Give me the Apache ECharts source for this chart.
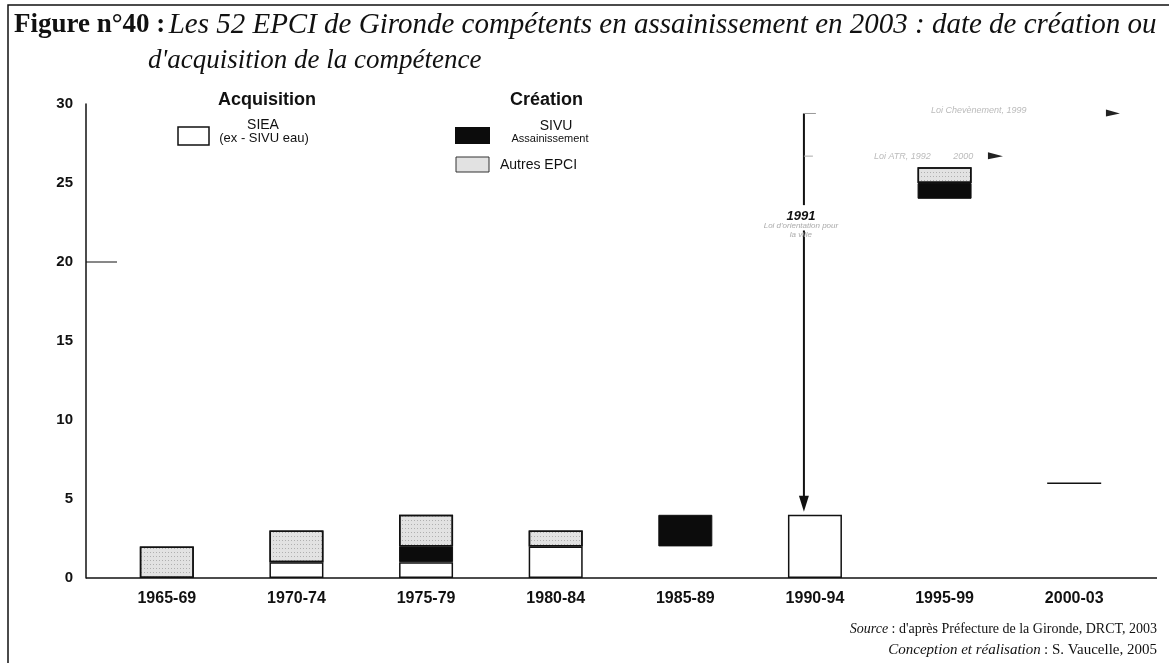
<!DOCTYPE html>
<html>
<head>
<meta charset="utf-8">
<script src="https://cdn.jsdelivr.net/npm/echarts@6/dist/echarts.min.js"></script>
<style>
  html, body { margin: 0; padding: 0; background: #fff; }
  #chart { width: 1169px; height: 663px; }
</style>
</head>
<body>
<div id="chart"></div>
<script>
// Five-year periods
const categories = ['1965-69', '1970-74', '1975-79', '1980-84', '1985-89', '1990-94', '1995-99', '2000-03'];
// Number of EPCI per period
const sieaValues   = [0, 1, 1, 2, 2, 4, 24, 6];   // Acquisition : SIEA (ex - SIVU eau)
const sivuValues   = [0, 0, 1, 0, 2, 0, 1, 0];    // Création : SIVU Assainissement
const autresValues = [2, 2, 2, 1, 0, 0, 1, 0];    // Création : Autres EPCI
const yMin = 0, yMax = 30, yStep = 5;

// Periods whose SIEA outline is barely printed
const faintOutline = ['1985-89', '1995-99', '2000-03'];

const INK = '#111';
const SANS = '"Liberation Sans", Arial, sans-serif';
const SERIF = '"Liberation Serif", "Times New Roman", serif';

const chart = echarts.init(document.getElementById('chart'), null, { renderer: 'canvas' });

function toData(values, styler) {
  return values.map((v, i) => {
    if (!v) return '-';
    const st = styler ? styler(categories[i]) : null;
    return st ? { value: v, itemStyle: st } : v;
  });
}

const stipple = {
  symbol: 'rect',
  symbolSize: 1,
  dashArrayX: [1, 2],
  dashArrayY: [1, 3],
  color: 'rgba(80,80,80,0.35)'
};

chart.setOption({
  animation: false,
  backgroundColor: '#fff',
  grid: { left: 102, top: 104, width: 1037, height: 474 },
  xAxis: {
    type: 'category',
    data: categories,
    axisLine: { show: false },
    axisTick: { show: false },
    axisLabel: { margin: 13, color: INK, fontFamily: SANS, fontWeight: 'bold', fontSize: 16 }
  },
  yAxis: {
    type: 'value',
    min: yMin, max: yMax, interval: yStep,
    offset: 16,
    axisLine: { show: true, lineStyle: { color: INK, width: 1.5 } },
    axisTick: { show: false },
    splitLine: { show: false },
    axisLabel: { margin: 13, color: INK, fontFamily: SANS, fontWeight: 'bold', fontSize: 15, padding: [0, 0, 8, 0] }
  },
  series: [
    {
      name: 'SIEA', type: 'bar', stack: 'epci', barWidth: 54,
      itemStyle: { color: '#fff', borderColor: INK, borderWidth: 1.5 },
      data: toData(sieaValues, c => faintOutline.includes(c) ? { borderWidth: 0 } : null)
    },
    {
      name: 'SIVU Assainissement', type: 'bar', stack: 'epci', barWidth: 54,
      itemStyle: { color: '#0c0c0c', borderColor: INK, borderWidth: 1 },
      data: toData(sivuValues)
    },
    {
      name: 'Autres EPCI', type: 'bar', stack: 'epci', barWidth: 54,
      itemStyle: { color: '#e2e2e2', borderColor: INK, borderWidth: 1.5, decal: stipple },
      data: toData(autresValues)
    }
  ]
});

// Annotations, legend, title and frame placed from the axes' own scale
function px(cat, v) { return chart.convertToPixel({ xAxisIndex: 0, yAxisIndex: 0 }, [cat, v]); }
const band = px(categories[1], 0)[0] - px(categories[0], 0)[0];
const axisX = 102 - 16;
const y0 = px(categories[0], 0)[1];
const xEnd = 102 + 1037 + 18;

const g = [];
// frame
g.push({ type: 'rect', shape: { x: 8, y: 5, width: 1200, height: 700 }, style: { fill: null, stroke: INK, lineWidth: 1.5 }, silent: true });
// baseline
g.push({ type: 'line', shape: { x1: axisX, y1: y0, x2: xEnd, y2: y0 }, style: { stroke: INK, lineWidth: 1.5 } });
// stray reference dash at 20
const y20 = px(categories[0], 20)[1];
g.push({ type: 'line', shape: { x1: axisX, y1: y20, x2: axisX + 31, y2: y20 }, style: { stroke: INK, lineWidth: 1 } });

// top edge of the last SIEA block
const lastCat = categories[categories.length - 1];
const lastTop = px(lastCat, sieaValues[sieaValues.length - 1]);
g.push({ type: 'line', shape: { x1: lastTop[0] - 27, y1: lastTop[1], x2: lastTop[0] + 27, y2: lastTop[1] }, style: { stroke: INK, lineWidth: 1.5 } });

// 1991 arrow
const arrowCat = '1990-94';
const ax = px(arrowCat, 0)[0] - band * 0.085;
const aTop = px(arrowCat, 29.4)[1];
const aTip = px(arrowCat, sieaValues[5] + 0.2)[1];
const gapTop = px(arrowCat, 23.6)[1];
const gapBot = px(arrowCat, 22.0)[1];
g.push({ type: 'line', shape: { x1: ax, y1: aTop, x2: ax, y2: gapTop }, style: { stroke: INK, lineWidth: 2 } });
g.push({ type: 'line', shape: { x1: ax, y1: gapBot, x2: ax, y2: aTip - 12 }, style: { stroke: INK, lineWidth: 2 } });
g.push({ type: 'polygon', shape: { points: [[ax - 5, aTip - 16], [ax + 5, aTip - 16], [ax, aTip]] }, style: { fill: INK } });
g.push({ type: 'line', shape: { x1: ax, y1: aTop, x2: ax + 12, y2: aTop }, style: { stroke: '#999', lineWidth: 1 } });
const aMid = px(arrowCat, 26.7)[1];
g.push({ type: 'line', shape: { x1: ax, y1: aMid, x2: ax + 9, y2: aMid }, style: { stroke: '#aaa', lineWidth: 1 } });
g.push({ type: 'text', x: ax - 3, y: gapTop + 11, style: { text: '1991', font: 'italic bold 13px ' + SANS, fill: INK, align: 'center', verticalAlign: 'middle' } });
g.push({ type: 'text', x: ax - 3, y: gapTop + 21, style: { text: 'Loi d\'orientation pour', font: 'italic 8px ' + SANS, fill: '#aaa', align: 'center', verticalAlign: 'middle' } });
g.push({ type: 'text', x: ax - 3, y: gapTop + 30, style: { text: 'la ville', font: 'italic 8px ' + SANS, fill: '#aaa', align: 'center', verticalAlign: 'middle' } });

// faint law notes with right-pointing arrowheads
g.push({ type: 'text', x: ax + 127, y: aTop - 3, style: { text: 'Loi Chevènement, 1999', font: 'italic 9px ' + SANS, fill: '#bbb', verticalAlign: 'middle' } });
g.push({ type: 'polygon', shape: { points: [[ax + 302, aTop - 4], [ax + 316, aTop], [ax + 302, aTop + 3]] }, style: { fill: '#222' } });
g.push({ type: 'text', x: ax + 70, y: aMid, style: { text: 'Loi ATR, 1992         2000', font: 'italic 9px ' + SANS, fill: '#bbb', verticalAlign: 'middle' } });
g.push({ type: 'polygon', shape: { points: [[ax + 184, aMid - 4], [ax + 199, aMid], [ax + 184, aMid + 3]] }, style: { fill: '#222' } });

// legend
g.push({ type: 'text', x: 218, y: 100, style: { text: 'Acquisition', font: 'bold 18px ' + SANS, fill: INK, verticalAlign: 'middle' } });
g.push({ type: 'text', x: 510, y: 100, style: { text: 'Création', font: 'bold 18px ' + SANS, fill: INK, verticalAlign: 'middle' } });
g.push({ type: 'rect', shape: { x: 178, y: 127, width: 31, height: 18 }, style: { fill: '#fff', stroke: INK, lineWidth: 1.5 } });
g.push({ type: 'text', x: 263, y: 125, style: { text: 'SIEA', font: '14px ' + SANS, fill: INK, align: 'center', verticalAlign: 'middle' } });
g.push({ type: 'text', x: 264, y: 138, style: { text: '(ex - SIVU eau)', font: '13px ' + SANS, fill: INK, align: 'center', verticalAlign: 'middle' } });
g.push({ type: 'rect', shape: { x: 455, y: 127, width: 35, height: 17 }, style: { fill: '#0c0c0c' } });
g.push({ type: 'text', x: 556, y: 126, style: { text: 'SIVU', font: '14px ' + SANS, fill: INK, align: 'center', verticalAlign: 'middle' } });
g.push({ type: 'text', x: 550, y: 139, style: { text: 'Assainissement', font: '11px ' + SANS, fill: INK, align: 'center', verticalAlign: 'middle' } });
g.push({ type: 'rect', shape: { x: 456, y: 157, width: 33, height: 15 }, style: { fill: '#e2e2e2', stroke: '#333', lineWidth: 1 } });
g.push({ type: 'text', x: 500, y: 165, style: { text: 'Autres EPCI', font: '14px ' + SANS, fill: INK, verticalAlign: 'middle' } });

// title
g.push({ type: 'text', x: 14, y: 11, style: {
  text: '{b|Figure n°40 :} {i|Les 52 EPCI de Gironde compétents en assainissement en 2003 : date de création ou}',
  rich: { b: { font: 'bold 27px ' + SERIF, fill: INK }, i: { font: 'italic 29px ' + SERIF, fill: INK } }
} });
g.push({ type: 'text', x: 148, y: 47, style: { text: 'd\'acquisition de la compétence', font: 'italic 27px ' + SERIF, fill: INK } });

// source
g.push({ type: 'text', x: 1157, y: 629, style: {
  text: '{i|Source} {r|: d\'après Préfecture de la Gironde, DRCT, 2003}', align: 'right', verticalAlign: 'middle',
  rich: { i: { font: 'italic 14px ' + SERIF, fill: INK }, r: { font: '14px ' + SERIF, fill: INK } }
} });
g.push({ type: 'text', x: 1157, y: 650, style: {
  text: '{i|Conception et réalisation} {r|: S. Vaucelle, 2005}', align: 'right', verticalAlign: 'middle',
  rich: { i: { font: 'italic 15px ' + SERIF, fill: INK }, r: { font: '15px ' + SERIF, fill: INK } }
} });

g.forEach(el => { el.z = 100; });
chart.setOption({ graphic: g });
</script>
</body>
</html>
